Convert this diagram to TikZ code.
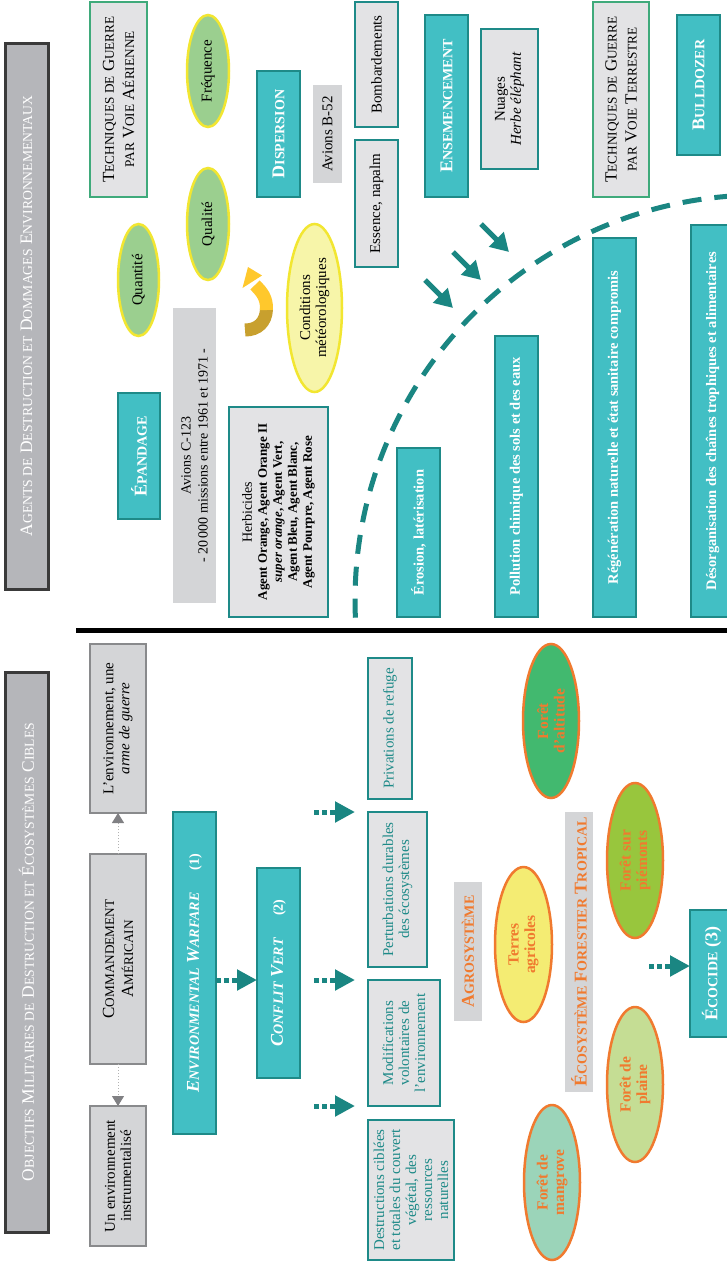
\documentclass[tikz,border=0pt]{standalone}
\usepackage{fontspec}
\setmainfont{Liberation Serif}
\usepackage{graphicx}
\usetikzlibrary{shapes.geometric,arrows.meta,calc}
\newcommand\sm[1]{\scalebox{0.78}{#1}}
\newcommand\fs[2]{\fontsize{#1}{#2}\selectfont}
\definecolor{tfill}{HTML}{42BFC4}
\definecolor{tborder}{HTML}{1E8A88}
\definecolor{tarrowc}{HTML}{1A8682}
\definecolor{lgray}{HTML}{E3E3E5}
\definecolor{mgray}{HTML}{D4D5D7}
\definecolor{hgray}{HTML}{B5B6BA}
\definecolor{hborder}{HTML}{3A3A3A}
\definecolor{gborder}{HTML}{3FAA7B}
\definecolor{cborder}{HTML}{898A8C}
\definecolor{ellgreen}{HTML}{9BCF8F}
\definecolor{ellyel}{HTML}{F2E631}
\definecolor{condfill}{HTML}{F7F5A9}
\definecolor{orng}{HTML}{F07A2F}
\definecolor{altfill}{HTML}{42B96F}
\definecolor{agrfill}{HTML}{F4EC73}
\definecolor{piefill}{HTML}{98C63D}
\definecolor{plafill}{HTML}{C5DD94}
\definecolor{manfill}{HTML}{9BD4B9}
\definecolor{goldc}{HTML}{FFC82C}
\definecolor{dgoldc}{HTML}{C8A02E}
\definecolor{garc}{HTML}{808083}
\tikzset{
 bx/.style={rotate=90, inner sep=0pt, outer sep=0pt, align=center, text=black, font=\fs{15}{16}},
 hdr/.style={bx, rectangle, fill=hgray, draw=hborder, line width=3pt, text=white, font=\fs{17.5}{20}},
 tbox/.style={bx, rectangle, fill=tfill, draw=tborder, line width=2.5pt, text=white, font=\fs{18}{20}\bfseries},
 tbar/.style={tbox, font=\fs{14.5}{16}\bfseries},
 gbox/.style={bx, rectangle, fill=lgray, draw=tborder, line width=2.5pt},
 techbox/.style={bx, rectangle, fill=lgray, draw=gborder, line width=2.5pt, font=\fs{17}{20}},
 pbox/.style={bx, rectangle, fill=mgray},
 cbox/.style={bx, rectangle, fill=mgray, draw=cborder, line width=2.5pt},
 obox/.style={gbox, text=tborder},
 ovl/.style={bx, ellipse, fill=ellgreen, draw=ellyel, line width=2.5pt},
 fell/.style={bx, ellipse, draw=orng, line width=2.5pt, text=orng, font=\fs{15.5}{16.5}\bfseries},
 olabel/.style={pbox, text=orng, font=\fs{18}{20}\bfseries},
 tarr/.style={draw=tarrowc, line width=5pt, dash pattern=on 5pt off 3pt, -{Triangle[length=20pt,width=20pt]}},
 darr/.style={draw=tarrowc, line width=5pt, -{Triangle[length=18pt,width=20pt]}},
 garr/.style={draw=gray!60, line width=1pt, dotted, -{Triangle[length=10pt,width=12pt,color=garc]}},
}
\begin{document}
\begin{tikzpicture}[x=1pt,y=-1pt]
\useasboundingbox (0,0) rectangle (727,1262);
\fill[white] (0,0) rectangle (727,1262);
\clip (0,0) rectangle (727,1262);

% headers
\node[hdr, minimum width=546pt, minimum height=43pt] (hA) at (26.5,316) {A\sm{GENTS DE} D\sm{ESTRUCTION ET} D\sm{OMMAGES} E\sm{NVIRONNEMENTAUX}};
\node[hdr, minimum width=560pt, minimum height=43pt] (hB) at (26.5,952) {O\sm{BJECTIFS} M\sm{ILITAIRES DE} D\sm{ESTRUCTION ET} É\sm{COSYSTÈMES} C\sm{IBLES}};
\draw[line width=5pt] (76,630) -- (727,630);

% top section
\node[techbox, minimum width=195pt, minimum height=57pt] (tair) at (118.5,99.5) {T\sm{ECHNIQUES DE} G\sm{UERRE}\\\sm{PAR} V\sm{OIE} A\sm{ÉRIENNE}};
\node[ovl, minimum width=112pt, minimum height=42pt] (freq) at (208,71) {Fréquence};
\node[ovl, minimum width=112pt, minimum height=42pt] (qual) at (208,224) {Qualité};
\node[ovl, minimum width=112pt, minimum height=41pt] (quant) at (138.5,280) {Quantité};
\node[tbox, minimum width=126pt, minimum height=43pt] (disp) at (278.5,134) {D\sm{ISPERSION}};
\node[pbox, minimum width=98pt, minimum height=29pt] (b52) at (327.5,134) {Avions B-52};
\node[gbox, minimum width=125pt, minimum height=43pt] (bomb) at (376.5,64.5) {Bombardements};
\node[gbox, minimum width=127pt, minimum height=43pt] (ess) at (376.5,203.5) {Essence, napalm};
\node[tbox, minimum width=182pt, minimum height=43pt] (ens) at (446.5,106) {E\sm{NSEMENCEMENT}};
\node[gbox, minimum width=140pt, minimum height=57pt] (nuag) at (509.5,99) {Nuages\\\textit{Herbe éléphant}};
\node[techbox, minimum width=195pt, minimum height=56pt] (tter) at (621,99.5) {T\sm{ECHNIQUES DE} G\sm{UERRE}\\\sm{PAR} V\sm{OIE} T\sm{ERRESTRE}};
\node[tbox, minimum width=140pt, minimum height=43pt] (bull) at (698.5,85) {B\sm{ULLDOZER}};
\node[tbox, minimum width=126pt, minimum height=42pt] (epan) at (139,456) {É\sm{PANDAGE}};
\node[pbox, minimum width=295pt, minimum height=43pt, font=\fs{14}{17}] (c123) at (194.5,455.5) {Avions C-123\\- 20\,000 missions entre 1961 et 1971 -};
\node[ovl, fill=condfill, minimum width=168pt, minimum height=55pt] (cond) at (314.5,308) {Conditions\\météorologiques};
\node[gbox, minimum width=210pt, minimum height=99pt, font=\fs{13}{15}] (herb) at (278.5,512) {{\fs{14}{19}Herbicides}\\\textbf{Agent Orange, Agent Orange II}\\\textbf{\textit{super orange}, Agent Vert,}\\\textbf{Agent Bleu, Agent Blanc,}\\\textbf{Agent Pourpre, Agent Rose}};

% curved yellow arrow
\draw[dgoldc, line width=13pt] (245,330) .. controls (258,330) and (266,322) .. (266.5,309);
\draw[goldc, line width=13pt] (266.5,310) .. controls (267,298) and (262,292) .. (255,285);
\fill[goldc] (262,275.5) -- (248,267) -- (242.5,288) -- cycle;

% effects bars
\node[tbar, minimum width=169pt, minimum height=43pt] (eros) at (418.5,532.5) {Érosion, latérisation};
\node[tbar, minimum width=281pt, minimum height=43pt] (poll) at (516.5,476.5) {Pollution chimique des sols et des eaux};
\node[tbar, minimum width=379pt, minimum height=43pt] (rege) at (614.5,427.5) {Régénération naturelle et état sanitaire compromis};
\node[tbar, minimum width=392pt, minimum height=43pt] (deso) at (712.5,421) {Désorganisation des chaînes trophiques et alimentaires};

% dashed arc and arrows
\draw[draw=tarrowc, line width=5pt, dash pattern=on 19pt off 13pt] plot[domain=177.5:268, samples=90, smooth] ({760+405*cos(\x)},{600+405*sin(\x)});
\coordinate (d1a) at (425,280); \coordinate (d1b) at (453,308);
\coordinate (d2a) at (453,252); \coordinate (d2b) at (481,280);
\coordinate (d3a) at (481,224); \coordinate (d3b) at (509,252);
\draw[darr] (d1a) -- (d1b);
\draw[darr] (d2a) -- (d2b);
\draw[darr] (d3a) -- (d3b);

% bottom section
\node[cbox, minimum width=169pt, minimum height=56pt] (lenv) at (118,728.5) {L’environnement, une\\\textit{arme de guerre}};
\node[cbox, minimum width=210pt, minimum height=56pt, font=\fs{17}{19}] (cmd) at (118,959) {C\sm{OMMANDEMENT}\\A\sm{MÉRICAIN}};
\node[cbox, minimum width=140pt, minimum height=56pt] (uenv) at (118,1176) {Un environnement\\instrumentalisé};
\draw[garr] (cmd.east) -- (lenv.west);
\draw[garr] (cmd.west) -- (uenv.east);

\node[tbox, minimum width=322pt, minimum height=43pt] (ew) at (194.5,973) {\textit{E\sm{NVIRONMENTAL} W\sm{ARFARE}}\quad\ \sm{(1)}};
\node[tbox, minimum width=210pt, minimum height=43pt] (cv) at (278.5,973) {\textit{C\sm{ONFLIT} V\sm{ERT}}\quad\ \sm{(2)}};
\draw[tarr] ($(ew.south)+(0,7)$) -- ($(cv.north)+(0,7)$);

\node[obox, minimum width=141pt, minimum height=44pt] (priv) at (390,728.5) {Privations de refuge};
\node[obox, minimum width=155pt, minimum height=59pt] (pert) at (397.5,889.5) {Perturbations durables\\des écosystèmes};
\node[obox, minimum width=126pt, minimum height=72pt] (modi) at (404,1043) {Modifications\\volontaires de\\l’environnement};
\node[obox, minimum width=140pt, minimum height=86pt] (dest) at (411,1190) {Destructions ciblées\\et totales du couvert\\végétal, des\\ressources\\naturelles};

\coordinate (c1a) at (314,812); \coordinate (c1b) at (355,812);
\coordinate (c2a) at (314,980); \coordinate (c2b) at (355,980);
\coordinate (c3a) at (314,1106); \coordinate (c3b) at (355,1106);
\draw[tarr] (c1a) -- (c1b);
\draw[tarr] (c2a) -- (c2b);
\draw[tarr] (c3a) -- (c3b);

\node[olabel, minimum width=139pt, minimum height=28pt] (agro) at (468,951.5) {A\sm{GROSYSTÈME}};
\node[olabel, minimum width=280pt, minimum height=28pt] (ecof) at (579,952) {É\sm{COSYSTÈME} F\sm{ORESTIER} T\sm{ROPICAL}};

\node[fell, fill=altfill, minimum width=154pt, minimum height=56pt] (falt) at (551,721) {Forêt\\d’altitude};
\node[fell, fill=agrfill, minimum width=155pt, minimum height=57pt] (terr) at (523.5,944.5) {Terres\\agricoles};
\node[fell, fill=piefill, minimum width=155pt, minimum height=56pt] (fpie) at (635,860.5) {Forêt sur\\piémonts};
\node[fell, fill=plafill, minimum width=155pt, minimum height=56pt] (fpla) at (635,1084.5) {Forêt de\\plaine};
\node[fell, fill=manfill, minimum width=155pt, minimum height=56pt] (fman) at (552,1182.5) {Forêt de\\mangrove};

\node[tbox, minimum width=127pt, minimum height=43pt] (eco) at (711.5,973.5) {É\sm{COCIDE} (3)};
\coordinate (e1a) at (649,966);
\draw[tarr] (e1a) -- (e1a -| eco.north);
\end{tikzpicture}
\end{document}
